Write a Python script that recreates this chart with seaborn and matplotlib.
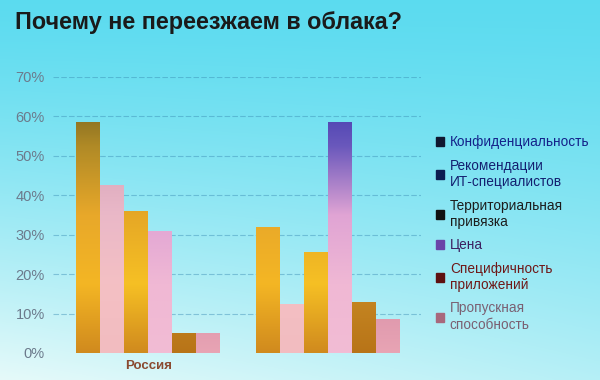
import numpy as np
import pandas as pd
import matplotlib
matplotlib.use("Agg")
import matplotlib.pyplot as plt
from matplotlib.colors import LinearSegmentedColormap
from matplotlib.ticker import PercentFormatter
import seaborn as sns

# data
regions = ["Россия", ""]
factors = ["Конфиденциальность", "Рекомендации\nИТ-специалистов",
           "Территориальная\nпривязка", "Цена",
           "Специфичность\nприложений", "Пропускная\nспособность"]
russia = [0.585, 0.425, 0.36, 0.31, 0.05, 0.05]
other = [0.32, 0.125, 0.255, 0.585, 0.13, 0.085]
y_ticks = [0, 0.1, 0.2, 0.3, 0.4, 0.5, 0.6, 0.7]

df = pd.DataFrame({
    "region": [regions[0]] * 6 + [regions[1]] * 6,
    "factor": factors * 2,
    "share": russia + other,
})

# gradients along the value axis (0 .. 70%), like the slide
bar_grads = [
    ["#d08a1e", "#f4b624", "#e8a82a", "#b08a26", "#5c5220"],
    ["#f2bcc0", "#f4c0c4", "#eab8c8", "#d6a4b8", "#c898b0"],
    ["#d08a1e", "#f6c024", "#e6a826", "#c08a22", "#906a20"],
    ["#f2bcd4", "#f0b8d4", "#e0a4d4", "#6a58bc", "#2e30a8"],
    ["#b87418", "#c88a24", "#a86e1a", "#8a5a18", "#6a4614"],
    ["#e8a4b4", "#d890a8", "#c88098", "#b07088", "#a06078"],
]
marker_colors = ["#101830", "#0c1c50", "#111111", "#6a44a8", "#5e1010", "#a8687c"]
text_colors = ["#14228a", "#142070", "#1c1c1c", "#3c2060", "#6e1818", "#7a6072"]

sns.set_theme(style="white")
plt.rcParams["font.family"] = ["Liberation Sans", "DejaVu Sans"]

fig = plt.figure(figsize=(6, 3.8), dpi=100)

# cyan slide background
bg = fig.add_axes([0, 0, 1, 1], zorder=-5)
yy = np.linspace(0, 1, 200).reshape(-1, 1)
xx = np.linspace(0, 1, 300).reshape(1, -1)
mix = np.clip(yy ** 1.3 * (1 - 0.35 * xx), 0, 1)
top = np.array([0.36, 0.86, 0.94])
bot = np.array([0.90, 0.98, 0.98])
img = top[None, None, :] * (1 - mix[..., None]) + bot[None, None, :] * mix[..., None]
bg.imshow(img, aspect="auto", extent=(0, 1, 0, 1), origin="upper")
bg.axis("off")
fig.patch.set_facecolor("#8ee8f2")

ax = fig.add_axes([53 / 600, 1 - 353 / 380, (421 - 53) / 600, (353 - 77) / 380])
ax.set_facecolor("none")

sns.barplot(data=df, x="region", y="share", hue="factor", hue_order=factors,
            order=regions, width=0.8, ax=ax, legend=True, zorder=3)

grad = np.linspace(0, 1, 256).reshape(-1, 1)
for cont, cols in zip(ax.containers, bar_grads):
    cmap = LinearSegmentedColormap.from_list("g", cols)
    for bar in cont:
        x0, w = bar.get_x(), bar.get_width()
        im = ax.imshow(grad, extent=(x0, x0 + w, 0, 0.7), origin="lower",
                       cmap=cmap, aspect="auto", zorder=3)
        im.set_clip_path(bar)
        bar.set_facecolor("none")
        bar.set_edgecolor("none")

ax.set_xlim(-0.53, 1.52)
ax.set_ylim(0, 0.7)
ax.set_yticks(y_ticks)
ax.yaxis.set_major_formatter(PercentFormatter(1.0, decimals=0))
for y in y_ticks[1:]:
    ax.axhline(y, color="#3a8cb4", lw=0.8, ls=(0, (5, 2)), alpha=0.45, zorder=1)
for s in ax.spines.values():
    s.set_visible(False)
ax.tick_params(axis="y", length=0, pad=6, labelsize=10.5, labelcolor="#6c7a8c")
ax.tick_params(axis="x", length=0, pad=5, labelsize=9.5, labelcolor="#8a4a30")
for lab in ax.get_xticklabels():
    lab.set_fontweight("bold")
ax.set_xlabel("")
ax.set_ylabel("")

# legend on the right
ax.legend_.remove()
handles = [plt.Rectangle((0, 0), 1, 1, color=c) for c in marker_colors]
leg = fig.legend(handles, factors, loc="upper left",
                 bbox_to_anchor=(424 / 600, 1 - 123 / 380), frameon=False,
                 fontsize=9.8, handlelength=0.6, handleheight=0.6,
                 handletextpad=0.4, labelspacing=0.7)
for t, c in zip(leg.get_texts(), text_colors):
    t.set_color(c)

fig.text(15 / 600, 1 - 22 / 380, "Почему не переезжаем в облака?",
         fontsize=16.8, fontweight="bold", color="#1a1a1a", va="center", ha="left")

fig.savefig("out.png", dpi=100)
